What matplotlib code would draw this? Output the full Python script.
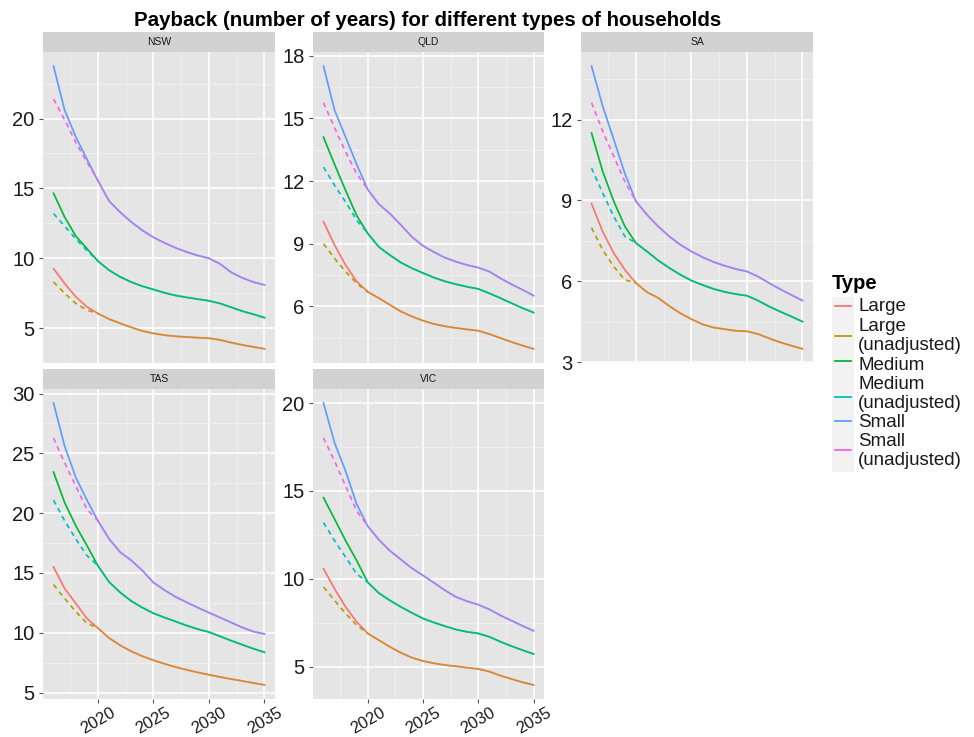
import matplotlib
matplotlib.use('Agg')
import matplotlib.pyplot as plt
from matplotlib.patches import Rectangle
from matplotlib.lines import Line2D

plt.rcParams['font.family'] = ['Liberation Sans', 'DejaVu Sans']

# ---------------- data ----------------
years = [2016, 2017, 2018, 2019, 2020, 2021, 2022, 2023, 2024, 2025,
         2026, 2027, 2028, 2029, 2030, 2031, 2032, 2033, 2034, 2035]
x_ticks = [2020, 2025, 2030, 2035]
x_minor = [2017.5, 2022.5, 2027.5, 2032.5]
x_tick_labels = ['2020', '2025', '2030', '2035']

type_names = ['Large', 'Large\n(unadjusted)', 'Medium', 'Medium\n(unadjusted)',
              'Small', 'Small\n(unadjusted)']
type_colors = ['#F8766D', '#B79F00', '#00BA38', '#00BFC4', '#619CFF', '#F564E3']

states = ['NSW', 'QLD', 'SA', 'TAS', 'VIC']

nsw_large = [9.26, 8.2, 7.25, 6.53, 6.05, 5.65, 5.35, 5.06, 4.8, 4.63,
             4.5, 4.42, 4.37, 4.32, 4.28, 4.16, 3.97, 3.8, 3.66, 3.52]
nsw_large_unadj = [8.3, 7.5, 6.77, 6.3, 6.05, 5.65, 5.35, 5.06, 4.8, 4.63,
                   4.5, 4.42, 4.37, 4.32, 4.28, 4.16, 3.97, 3.8, 3.66, 3.52]
nsw_medium = [14.65, 12.95, 11.6, 10.7, 9.8, 9.15, 8.67, 8.3, 8.0, 7.77,
              7.53, 7.34, 7.2, 7.08, 6.96, 6.77, 6.5, 6.22, 6.0, 5.75]
nsw_medium_unadj = [13.2, 12.3, 11.4, 10.55, 9.8, 9.15, 8.67, 8.3, 8.0, 7.77,
                    7.53, 7.34, 7.2, 7.08, 6.96, 6.77, 6.5, 6.22, 6.0, 5.75]
nsw_small = [23.75, 20.6, 18.7, 17.1, 15.55, 14.1, 13.3, 12.6, 12.0, 11.5,
             11.1, 10.75, 10.45, 10.2, 10.0, 9.6, 9.0, 8.6, 8.3, 8.1]
nsw_small_unadj = [21.4, 19.9, 18.3, 16.9, 15.55, 14.1, 13.3, 12.6, 12.0, 11.5,
                   11.1, 10.75, 10.45, 10.2, 10.0, 9.6, 9.0, 8.6, 8.3, 8.1]

qld_large = [10.05, 8.94, 7.98, 7.2, 6.7, 6.4, 6.08, 5.76, 5.52, 5.32,
             5.16, 5.05, 4.97, 4.9, 4.84, 4.68, 4.49, 4.3, 4.13, 3.97]
qld_large_unadj = [9.0, 8.3, 7.67, 7.1, 6.7, 6.4, 6.08, 5.76, 5.52, 5.32,
                   5.16, 5.05, 4.97, 4.9, 4.84, 4.68, 4.49, 4.3, 4.13, 3.97]
qld_medium = [14.1, 12.8, 11.55, 10.35, 9.5, 8.85, 8.46, 8.1, 7.83, 7.6,
              7.38, 7.2, 7.06, 6.94, 6.84, 6.63, 6.4, 6.16, 5.92, 5.71]
qld_medium_unadj = [12.67, 11.8, 11.0, 10.13, 9.5, 8.85, 8.46, 8.1, 7.83, 7.6,
                    7.38, 7.2, 7.06, 6.94, 6.84, 6.63, 6.4, 6.16, 5.92, 5.71]
qld_small = [17.5, 15.4, 14.1, 12.8, 11.6, 10.9, 10.45, 9.9, 9.33, 8.9,
             8.6, 8.33, 8.14, 7.98, 7.86, 7.67, 7.35, 7.06, 6.8, 6.52]
qld_small_unadj = [15.75, 14.55, 13.4, 12.35, 11.6, 10.9, 10.45, 9.9, 9.33, 8.9,
                   8.6, 8.33, 8.14, 7.98, 7.86, 7.67, 7.35, 7.06, 6.8, 6.52]

sa_large = [8.88, 7.85, 7.05, 6.43, 5.94, 5.6, 5.39, 5.09, 4.82, 4.6,
            4.41, 4.29, 4.23, 4.17, 4.15, 4.05, 3.89, 3.74, 3.62, 3.5]
sa_large_unadj = [7.99, 7.17, 6.55, 6.06, 5.94, 5.6, 5.39, 5.09, 4.82, 4.6,
                  4.41, 4.29, 4.23, 4.17, 4.15, 4.05, 3.89, 3.74, 3.62, 3.5]
sa_medium = [11.5, 10.08, 8.97, 8.04, 7.42, 7.11, 6.78, 6.5, 6.25, 6.03,
             5.87, 5.72, 5.61, 5.53, 5.47, 5.29, 5.07, 4.88, 4.7, 4.51]
sa_medium_unadj = [10.2, 9.28, 8.41, 7.67, 7.42, 7.11, 6.78, 6.5, 6.25, 6.03,
                   5.87, 5.72, 5.61, 5.53, 5.47, 5.29, 5.07, 4.88, 4.7, 4.51]
sa_small = [13.98, 12.5, 11.26, 10.0, 8.97, 8.47, 8.04, 7.67, 7.36, 7.11,
            6.9, 6.72, 6.58, 6.46, 6.37, 6.18, 5.94, 5.71, 5.5, 5.29]
sa_small_unadj = [12.62, 11.57, 10.64, 9.7, 8.97, 8.47, 8.04, 7.67, 7.36, 7.11,
                  6.9, 6.72, 6.58, 6.46, 6.37, 6.18, 5.94, 5.71, 5.5, 5.29]

tas_large = [15.5, 13.7, 12.46, 11.2, 10.39, 9.56, 8.95, 8.45, 8.04, 7.7,
             7.4, 7.13, 6.9, 6.68, 6.49, 6.3, 6.13, 5.97, 5.8, 5.64]
tas_large_unadj = [14.03, 12.87, 11.77, 10.8, 10.39, 9.56, 8.95, 8.45, 8.04, 7.7,
                   7.4, 7.13, 6.9, 6.68, 6.49, 6.3, 6.13, 5.97, 5.8, 5.64]
tas_medium = [23.43, 20.88, 18.95, 17.3, 15.6, 14.25, 13.37, 12.65, 12.1, 11.63,
              11.27, 10.94, 10.6, 10.3, 10.06, 9.7, 9.34, 9.0, 8.67, 8.37]
tas_medium_unadj = [21.08, 19.36, 17.85, 16.46, 15.6, 14.25, 13.37, 12.65, 12.1, 11.63,
                    11.27, 10.94, 10.6, 10.3, 10.06, 9.7, 9.34, 9.0, 8.67, 8.37]
tas_small = [29.2, 25.6, 23.0, 21.1, 19.36, 17.85, 16.74, 16.05, 15.2, 14.2,
             13.56, 13.0, 12.54, 12.1, 11.68, 11.27, 10.86, 10.44, 10.1, 9.9]
tas_small_unadj = [26.27, 24.2, 22.27, 20.33, 19.36, 17.85, 16.74, 16.05, 15.2, 14.2,
                   13.56, 13.0, 12.54, 12.1, 11.68, 11.27, 10.86, 10.44, 10.1, 9.9]

vic_large = [10.57, 9.43, 8.4, 7.55, 6.89, 6.51, 6.13, 5.79, 5.51, 5.32,
             5.19, 5.09, 5.02, 4.94, 4.87, 4.72, 4.49, 4.3, 4.11, 3.96]
vic_large_unadj = [9.53, 8.77, 8.02, 7.36, 6.89, 6.51, 6.13, 5.79, 5.51, 5.32,
                   5.19, 5.09, 5.02, 4.94, 4.87, 4.72, 4.49, 4.3, 4.11, 3.96]
vic_medium = [14.62, 13.4, 12.17, 11.04, 9.8, 9.19, 8.77, 8.4, 8.06, 7.74,
              7.51, 7.3, 7.11, 6.98, 6.89, 6.7, 6.42, 6.17, 5.94, 5.72]
vic_medium_unadj = [13.2, 12.17, 11.23, 10.28, 9.8, 9.19, 8.77, 8.4, 8.06, 7.74,
                    7.51, 7.3, 7.11, 6.98, 6.89, 6.7, 6.42, 6.17, 5.94, 5.72]
vic_small = [20.0, 17.74, 16.13, 14.25, 13.0, 12.23, 11.6, 11.1, 10.6, 10.19,
             9.77, 9.34, 8.96, 8.72, 8.53, 8.26, 7.92, 7.62, 7.32, 7.04]
vic_small_unadj = [18.02, 16.7, 15.28, 13.87, 13.0, 12.23, 11.6, 11.1, 10.6, 10.19,
                   9.77, 9.34, 8.96, 8.72, 8.53, 8.26, 7.92, 7.62, 7.32, 7.04]

nsw_yticks = [5, 10, 15, 20]
qld_yticks = [6, 9, 12, 15, 18]
sa_yticks = [3, 6, 9, 12]
tas_yticks = [5, 10, 15, 20, 25, 30]
vic_yticks = [5, 10, 15, 20]

panel_series = {
    'NSW': [nsw_large, nsw_large_unadj, nsw_medium, nsw_medium_unadj, nsw_small, nsw_small_unadj],
    'QLD': [qld_large, qld_large_unadj, qld_medium, qld_medium_unadj, qld_small, qld_small_unadj],
    'SA': [sa_large, sa_large_unadj, sa_medium, sa_medium_unadj, sa_small, sa_small_unadj],
    'TAS': [tas_large, tas_large_unadj, tas_medium, tas_medium_unadj, tas_small, tas_small_unadj],
    'VIC': [vic_large, vic_large_unadj, vic_medium, vic_medium_unadj, vic_small, vic_small_unadj],
}
panel_yticks = {'NSW': nsw_yticks, 'QLD': qld_yticks, 'SA': sa_yticks,
                'TAS': tas_yticks, 'VIC': vic_yticks}

# ---------------- layout (pixels) ----------------
W, H = 974, 737
fig = plt.figure(figsize=(W / 100, H / 100), dpi=100)
fig.patch.set_facecolor('white')


def rect(x0, y0, x1, y1):
    return [x0 / W, 1 - y1 / H, (x1 - x0) / W, (y1 - y0) / H]


cols = [(43, 275), (313, 544), (581, 813)]
rows = [(52, 363), (389, 699)]
strips = [(32, 52), (369, 389)]
positions = {'NSW': (0, 0), 'QLD': (0, 1), 'SA': (0, 2), 'TAS': (1, 0), 'VIC': (1, 1)}

LW = 1.25
TXT = '#1a1a1a'
TICKFS = 14.5

for st in states:
    r, c = positions[st]
    x0, x1 = cols[c]
    y0, y1 = rows[r]
    ax = fig.add_axes(rect(x0, y0, x1, y1))
    ax.set_facecolor('#E5E5E5')
    for sp in ax.spines.values():
        sp.set_visible(False)

    series = panel_series[st]
    for i in range(0, 6, 2):
        adj = series[i]
        una = series[i + 1]
        ax.plot(years, adj, color=type_colors[i], lw=LW, zorder=3,
                solid_joinstyle='round')
        diff = [k for k in range(len(years)) if una[k] != adj[k]]
        last = diff[-1] if diff else -1
        ax.plot(years[:last + 2], una[:last + 2], color=type_colors[i + 1], lw=LW,
                linestyle=(0, (2.8, 2.4)), zorder=4)
        ax.plot(years[last + 1:], una[last + 1:], color=type_colors[i + 1], lw=LW,
                alpha=0.5, zorder=4, solid_joinstyle='round')

    allv = [v for s in series for v in s]
    lo, hi = min(allv), max(allv)
    rng = hi - lo
    xr = years[-1] - years[0]
    ax.set_xlim(years[0] - 0.05 * xr, years[-1] + 0.05 * xr)

    yt = panel_yticks[st]
    step = yt[1] - yt[0]
    ext = [yt[0] - step] + yt + [yt[-1] + step]
    yminor = [(ext[k] + ext[k + 1]) / 2 for k in range(len(ext) - 1)]
    ax.set_yticks(yt)
    ax.set_yticklabels([str(v) for v in yt])
    ax.set_yticks(yminor, minor=True)
    ax.set_xticks(x_ticks)
    ax.set_xticks(x_minor, minor=True)
    ax.set_ylim(lo - 0.05 * rng, hi + 0.05 * rng)

    ax.grid(which='major', color='white', lw=1.2, zorder=1)
    ax.grid(which='minor', color='#F2F2F2', lw=0.6, zorder=1)
    ax.set_axisbelow(True)
    ax.tick_params(which='minor', length=0)
    ax.tick_params(which='major', axis='y', length=3, width=0.8, color='#555555',
                   labelsize=TICKFS, labelcolor=TXT, pad=3)
    if r == 1:
        ax.tick_params(which='major', axis='x', length=3, width=0.8, color='#555555',
                       labelsize=12, labelcolor=TXT, pad=1)
        ax.set_xticklabels(x_tick_labels, rotation=30, ha='center')
    else:
        ax.tick_params(which='major', axis='x', length=0, labelbottom=False)

    sy0, sy1 = strips[r]
    sax = fig.add_axes(rect(x0, sy0, x1, sy1))
    sax.set_facecolor('#D2D2D2')
    sax.set_xticks([])
    sax.set_yticks([])
    for sp in sax.spines.values():
        sp.set_visible(False)
    sax.text(0.5, 0.5, st, ha='center', va='center', fontsize=7.5, color=TXT,
             transform=sax.transAxes)

# ---------------- title ----------------
fig.text(428 / W, 1 - 21 / H,
         'Payback (number of years) for different types of households',
         ha='center', va='center', fontsize=14.8, fontweight='bold', color='black')

# ---------------- legend ----------------
lax = fig.add_axes([0, 0, 1, 1], facecolor='none')
lax.set_xlim(0, W)
lax.set_ylim(H, 0)
lax.axis('off')
lax.text(832, 283, 'Type', ha='left', va='center', fontsize=14.5,
         fontweight='bold', color='black')
lax.add_patch(Rectangle((832, 297), 22, 175, facecolor='#F2F2F2', edgecolor='none'))
key_y = [306, 336, 361, 397, 421, 450]
text_y = [[306], [326], [365], [384], [422], [441]]
text_y = [[306], [326, 345], [365], [384, 403], [422], [441, 460]]
for k in range(6):
    lax.add_line(Line2D([835, 851], [key_y[k], key_y[k]], color=type_colors[k], lw=1.3))
    for line, ty in zip(type_names[k].split('\n'), text_y[k]):
        lax.text(858, ty, line, ha='left', va='center', fontsize=13.5, color=TXT)

fig.savefig('out.png', dpi=100)
